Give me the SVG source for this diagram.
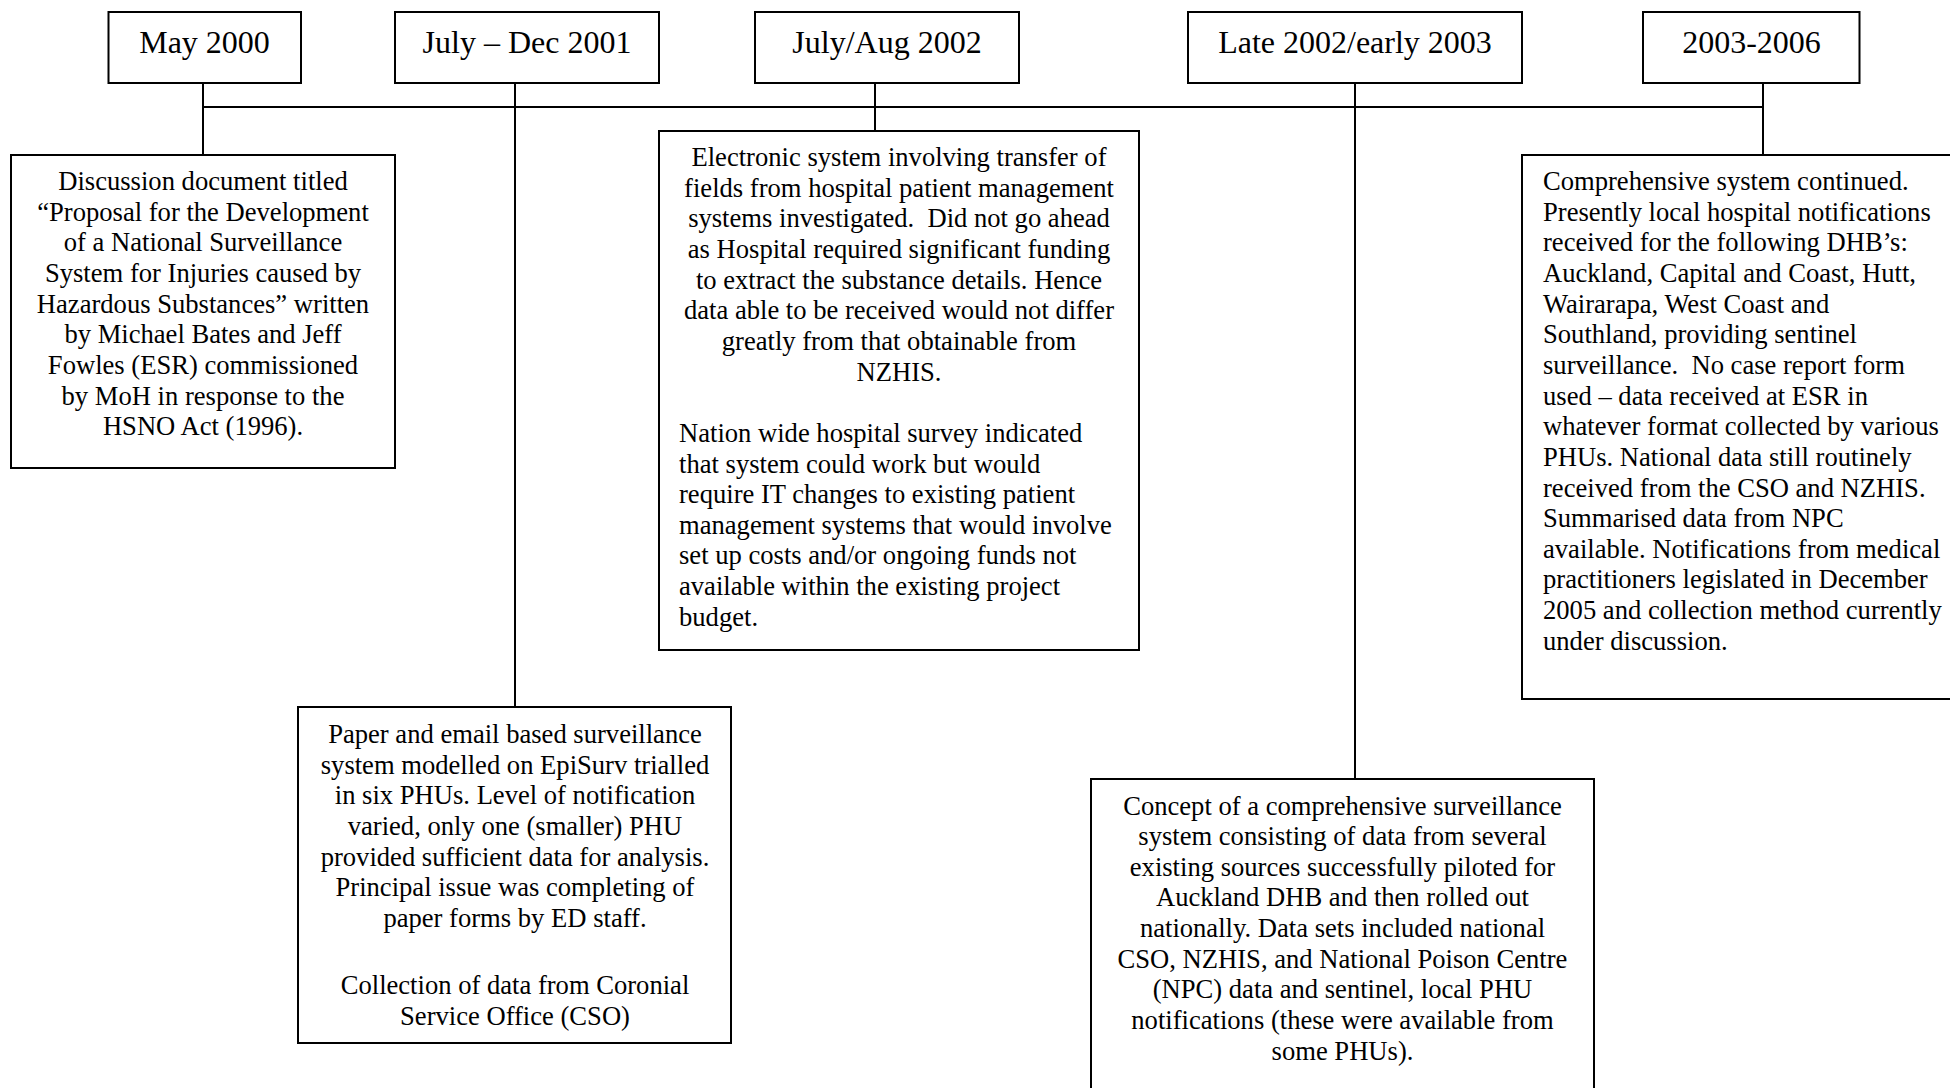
<svg xmlns="http://www.w3.org/2000/svg" width="1950" height="1088" viewBox="0 0 1950 1088">
<style>
  .box { fill: #ffffff; stroke: #000000; stroke-width: 2; }
  .conn { stroke: #000000; stroke-width: 2; fill: none; }
  .hdr { font-family: "Liberation Serif", "Times New Roman", serif; font-size: 32px; fill: #000000; text-anchor: middle; }
  .body { font-family: "Liberation Serif", "Times New Roman", serif; font-size: 26.6px; fill: #000000; }
  .c { text-anchor: middle; }
  .l { text-anchor: start; }
</style>
<rect x="0" y="0" width="1950" height="1088" fill="#ffffff"/>

<g id="connectors">
  <line class="conn" x1="203" y1="107" x2="1763" y2="107"/>
  <line class="conn" x1="203" y1="83" x2="203" y2="155"/>
  <line class="conn" x1="515" y1="83" x2="515" y2="707"/>
  <line class="conn" x1="875" y1="83" x2="875" y2="131"/>
  <line class="conn" x1="1355" y1="83" x2="1355" y2="779"/>
  <line class="conn" x1="1763" y1="83" x2="1763" y2="155"/>
</g>

<g id="hdr-may2000">
  <rect class="box" x="108.5" y="12" width="192.5" height="71"/>
  <text class="hdr" x="204.5" y="52.5">May 2000</text>
</g>
<g id="hdr-july-dec-2001">
  <rect class="box" x="395" y="12" width="264" height="71"/>
  <text class="hdr" x="527" y="52.5">July – Dec 2001</text>
</g>
<g id="hdr-july-aug-2002">
  <rect class="box" x="755" y="12" width="264" height="71"/>
  <text class="hdr" x="887" y="52.5">July/Aug 2002</text>
</g>
<g id="hdr-late2002">
  <rect class="box" x="1188" y="12" width="334" height="71"/>
  <text class="hdr" x="1355" y="52.5">Late 2002/early 2003</text>
</g>
<g id="hdr-2003-2006">
  <rect class="box" x="1643" y="12" width="216.5" height="71"/>
  <text class="hdr" x="1751.5" y="52.5">2003-2006</text>
</g>

<g id="box-may2000">
  <rect class="box" x="11" y="155" width="384" height="313"/>
  <text class="body c"><tspan x="203" y="190">Discussion document titled</tspan><tspan x="203" y="220.65">“Proposal for the Development</tspan><tspan x="203" y="251.3">of a National Surveillance</tspan><tspan x="203" y="281.95">System for Injuries caused by</tspan><tspan x="203" y="312.6">Hazardous Substances” written</tspan><tspan x="203" y="343.25">by Michael Bates and Jeff</tspan><tspan x="203" y="373.9">Fowles (ESR) commissioned</tspan><tspan x="203" y="404.55">by MoH in response to the</tspan><tspan x="203" y="435.2">HSNO Act (1996).</tspan></text>
</g>

<g id="box-july-dec-2001">
  <rect class="box" x="298" y="707" width="433" height="336"/>
  <text class="body c"><tspan x="515" y="743">Paper and email based surveillance</tspan><tspan x="515" y="773.65">system modelled on EpiSurv trialled</tspan><tspan x="515" y="804.3">in six PHUs. Level of notification</tspan><tspan x="515" y="834.95">varied, only one (smaller) PHU</tspan><tspan x="515" y="865.6">provided sufficient data for analysis.</tspan><tspan x="515" y="896.25">Principal issue was completing of</tspan><tspan x="515" y="926.9">paper forms by ED staff.</tspan><tspan x="515" y="994">Collection of data from Coronial</tspan><tspan x="515" y="1024.65">Service Office (CSO)</tspan></text>
</g>

<g id="box-july-aug-2002">
  <rect class="box" x="659" y="131" width="480" height="519"/>
  <text class="body c"><tspan x="899" y="166">Electronic system involving transfer of</tspan><tspan x="899" y="196.65">fields from hospital patient management</tspan><tspan x="899" y="227.3">systems investigated. &#160;Did not go ahead</tspan><tspan x="899" y="257.95">as Hospital required significant funding</tspan><tspan x="899" y="288.6">to extract the substance details. Hence</tspan><tspan x="899" y="319.25">data able to be received would not differ</tspan><tspan x="899" y="349.9">greatly from that obtainable from</tspan><tspan x="899" y="380.55">NZHIS.</tspan></text>
  <text class="body l"><tspan x="679" y="441.85">Nation wide hospital survey indicated</tspan><tspan x="679" y="472.5">that system could work but would</tspan><tspan x="679" y="503.15">require IT changes to existing patient</tspan><tspan x="679" y="533.8">management systems that would involve</tspan><tspan x="679" y="564.45">set up costs and/or ongoing funds not</tspan><tspan x="679" y="595.1">available within the existing project</tspan><tspan x="679" y="625.75">budget.</tspan></text>
</g>

<g id="box-late2002">
  <rect class="box" x="1091" y="779" width="503" height="330"/>
  <text class="body c"><tspan x="1342.5" y="814.5">Concept of a comprehensive surveillance</tspan><tspan x="1342.5" y="845.15">system consisting of data from several</tspan><tspan x="1342.5" y="875.8">existing sources successfully piloted for</tspan><tspan x="1342.5" y="906.45">Auckland DHB and then rolled out</tspan><tspan x="1342.5" y="937.1">nationally. Data sets included national</tspan><tspan x="1342.5" y="967.75">CSO, NZHIS, and National Poison Centre</tspan><tspan x="1342.5" y="998.4">(NPC) data and sentinel, local PHU</tspan><tspan x="1342.5" y="1029.05">notifications (these were available from</tspan><tspan x="1342.5" y="1059.7">some PHUs).</tspan></text>
</g>

<g id="box-2003-2006">
  <rect class="box" x="1522" y="155" width="450" height="544"/>
  <text class="body l"><tspan x="1543" y="190">Comprehensive system continued.</tspan><tspan x="1543" y="220.65">Presently local hospital notifications</tspan><tspan x="1543" y="251.3">received for the following DHB’s:</tspan><tspan x="1543" y="281.95">Auckland, Capital and Coast, Hutt,</tspan><tspan x="1543" y="312.6">Wairarapa, West Coast and</tspan><tspan x="1543" y="343.25">Southland, providing sentinel</tspan><tspan x="1543" y="373.9">surveillance. &#160;No case report form</tspan><tspan x="1543" y="404.55">used – data received at ESR in</tspan><tspan x="1543" y="435.2">whatever format collected by various</tspan><tspan x="1543" y="465.85">PHUs. National data still routinely</tspan><tspan x="1543" y="496.5">received from the CSO and NZHIS.</tspan><tspan x="1543" y="527.15">Summarised data from NPC</tspan><tspan x="1543" y="557.8">available. Notifications from medical</tspan><tspan x="1543" y="588.45">practitioners legislated in December</tspan><tspan x="1543" y="619.1">2005 and collection method currently</tspan><tspan x="1543" y="649.75">under discussion.</tspan></text>
</g>
</svg>
